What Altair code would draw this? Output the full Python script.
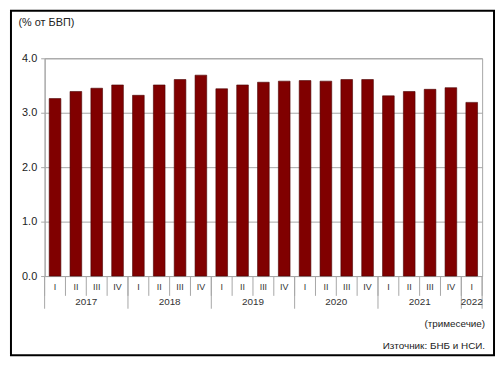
import altair as alt
import pandas as pd

quarters = ["I", "II", "III", "IV"] * 5 + ["I"]
years = ["2017"] * 4 + ["2018"] * 4 + ["2019"] * 4 + ["2020"] * 4 + ["2021"] * 4 + ["2022"]
values = [3.26, 3.39, 3.45, 3.51,
          3.32, 3.51, 3.61, 3.69,
          3.44, 3.51, 3.56, 3.58,
          3.59, 3.58, 3.61, 3.61,
          3.31, 3.39, 3.43, 3.46,
          3.19]
y_ticks = [0, 1, 2, 3, 4]

n = len(values)
df = pd.DataFrame({"q": quarters, "year": years, "value": values, "i": list(range(n))})
q_edges = pd.DataFrame({"e": list(range(n + 1))})
y_edges = pd.DataFrame({"e": [i for i in range(n) if i == 0 or years[i] != years[i - 1]] + [n]})

W, H = 442, 220
GRAY = "#a6a6a6"
FONT = "Liberation Sans"
xs = alt.Scale(domain=[0, n], nice=False, zero=False)

base = alt.Chart(df).transform_calculate(
    x0="datum.i + 0.22", x1="datum.i + 0.78", mid="datum.i + 0.5"
)

bars = base.mark_rect(fill="#800000", stroke="#4a0000", strokeWidth=0.6).encode(
    x=alt.X("x0:Q", scale=xs, axis=None),
    x2="x1:Q",
    y=alt.Y("value:Q",
            scale=alt.Scale(domain=[0, 4], nice=False),
            axis=alt.Axis(values=y_ticks, format=".1f", tickSize=4, tickColor=GRAY,
                          domainColor=GRAY, gridColor=GRAY, labelPadding=4,
                          labelFontSize=11, labelColor="#222", labelFont=FONT,
                          title="(% от БВП)", titleAngle=0, titleAlign="left",
                          titleBaseline="middle", titleX=-27, titleY=-36,
                          titleFontSize=11, titleFontWeight="normal",
                          titleColor="#222", titleFont=FONT)),
)

q_labels = base.mark_text(fontSize=9, font=FONT, color="#333", baseline="middle").encode(
    x=alt.X("mid:Q", scale=xs), y=alt.value(H + 11), text="q:N"
)

year_labels = base.mark_text(fontSize=10, font=FONT, color="#333", baseline="middle").encode(
    x=alt.X("mean(mid):Q", scale=xs), y=alt.value(H + 26.5), text="year:N"
)

q_rules = alt.Chart(q_edges).mark_rule(color=GRAY, strokeWidth=1).encode(
    x=alt.X("e:Q", scale=xs), y=alt.value(H), y2=alt.value(H + 20)
)
y_rules = alt.Chart(y_edges).mark_rule(color=GRAY, strokeWidth=1).encode(
    x=alt.X("e:Q", scale=xs), y=alt.value(H), y2=alt.value(H + 33)
)

note = alt.Chart(alt.Data(values=[{"t": "(тримесечие)"}])).mark_text(
    fontSize=10, font=FONT, color="#222", align="right", baseline="middle"
).encode(x=alt.value(W + 3), y=alt.value(H + 48), text="t:N")

source = alt.Chart(alt.Data(values=[{"t": "Източник:  БНБ и НСИ."}])).mark_text(
    fontSize=10, font=FONT, color="#222", align="right", baseline="middle"
).encode(x=alt.value(W + 3), y=alt.value(H + 71), text="t:N")

border = alt.Chart(alt.Data(values=[{"a": 1}])).mark_rect(
    fill=None, stroke="black", strokeWidth=2
).encode(x=alt.value(-34), x2=alt.value(W + 12), y=alt.value(-48), y2=alt.value(H + 80))

chart = alt.layer(bars, q_rules, y_rules, q_labels, year_labels, note, source, border).properties(
    width=W, height=H,
    autosize=alt.AutoSizeParams(type="none"),
    padding={"left": 37, "top": 49, "right": 14, "bottom": 83},
).configure_view(stroke=GRAY)

chart.save("out.html", embed_options={"renderer": "svg", "actions": False})
